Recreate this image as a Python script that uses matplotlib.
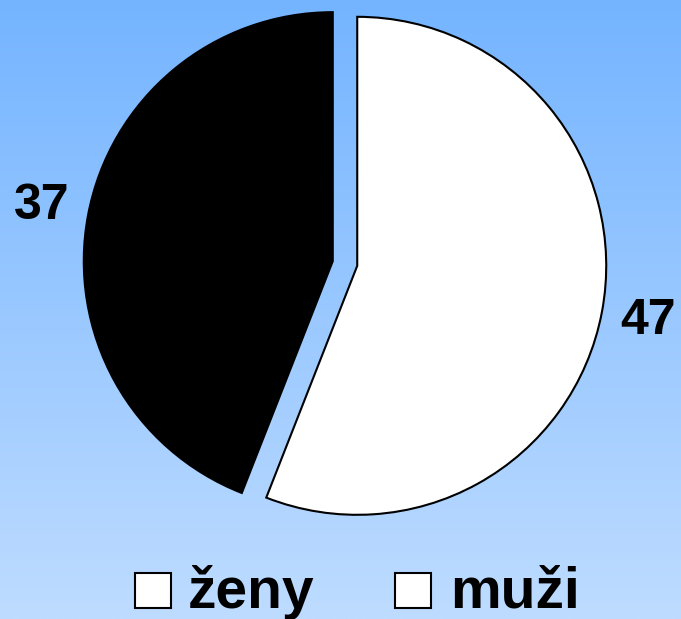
import numpy as np
import matplotlib
matplotlib.use("Agg")
import matplotlib.pyplot as plt
from matplotlib.patches import Rectangle
from matplotlib.colors import LinearSegmentedColormap

# Data
slice_labels = ["ženy", "muži"]
slice_values = [37, 47]
slice_colors = ["#000000", "#ffffff"]
legend_labels = ["ženy", "muži"]

W, H = 681, 619
fig = plt.figure(figsize=(W / 100, H / 100), dpi=100)

# Background gradient
bg = fig.add_axes([0, 0, 1, 1])
cmap = LinearSegmentedColormap.from_list("bg", ["#74b4ff", "#bedcff"])
grad = np.linspace(0, 1, 256).reshape(-1, 1)
bg.imshow(grad, aspect="auto", cmap=cmap, extent=[0, 1, 0, 1], origin="upper")
bg.set_axis_off()

ax = fig.add_axes([0, 0, 1, 1])
ax.patch.set_alpha(0)

R = 249
total = sum(slice_values)
wedges, texts, autotexts = ax.pie(
    slice_values,
    colors=slice_colors,
    startangle=90,
    counterclock=True,
    explode=[0.05 * R, 0.05 * R],
    radius=R,
    center=(345, 355.5),
    autopct=lambda p: f"{round(p * total / 100):d}",
    pctdistance=1.19,
    wedgeprops=dict(edgecolor="black", linewidth=1.5),
    textprops=dict(fontsize=36, fontweight="bold", family="Liberation Sans", color="black"),
    frame=True,
)
ax.set_xlim(0, W)
ax.set_ylim(0, H)
ax.set_aspect("auto")
ax.set_axis_off()

# Legend (manual)
legend_box_x = [135, 395]
legend_text_x = [188, 450]
for lbl, bx, tx in zip(legend_labels, legend_box_x, legend_text_x):
    ax.add_patch(Rectangle((bx, 11), 36, 35, facecolor="white", edgecolor="black", linewidth=1.5))
    ax.text(tx, 11, lbl, fontsize=41, fontweight="bold", family="Liberation Sans",
            ha="left", va="baseline", color="black")

fig.savefig("out.png", dpi=100)
